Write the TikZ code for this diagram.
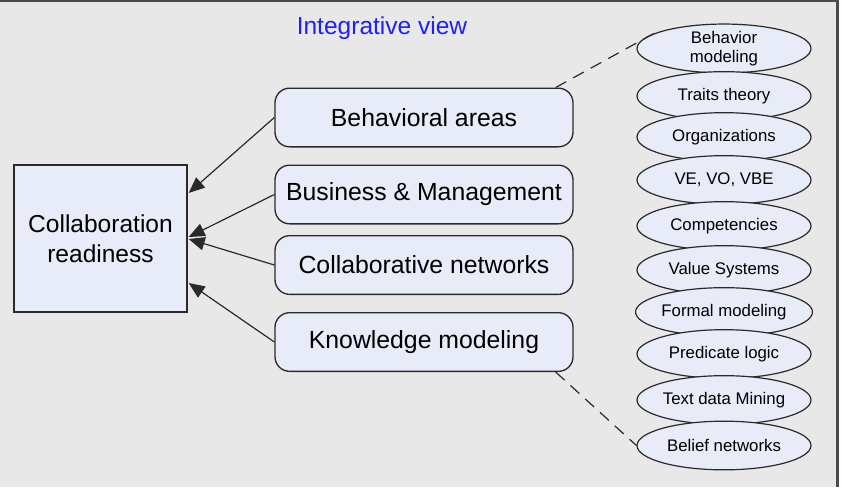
\documentclass[tikz,border=0pt]{standalone}
\usepackage{fontspec}
\setmainfont{Liberation Sans}
\usetikzlibrary{arrows.meta,shapes.geometric,calc}
\definecolor{bggray}{HTML}{E8E8E8}
\definecolor{boxfill}{HTML}{E8ECF8}
\definecolor{framegray}{HTML}{4A4A4A}
\definecolor{titleblue}{HTML}{1E1EFF}
\definecolor{linegray}{HTML}{2A2A2A}
\tikzset{
  mainbox/.style={draw=linegray, line width=1pt, fill=boxfill, rounded corners=11pt,
    minimum width=223.5pt, minimum height=44pt, inner sep=0pt,
    font=\fontsize{18.6pt}{22pt}\selectfont},
  topicell/.style={ellipse, draw=linegray, line width=0.9pt, fill=boxfill,
    minimum width=130.5pt, minimum height=36.5pt, inner sep=0pt, align=center,
    font=\fontsize{12.6pt}{14.2pt}\selectfont},
  crbox/.style={draw=linegray, line width=1pt, fill=boxfill, minimum width=129.75pt,
    minimum height=110.25pt, inner sep=0pt, align=center,
    font=\fontsize{18.4pt}{22.5pt}\selectfont},
  feed/.style={draw=linegray, line width=0.9pt, -{Triangle[length=12pt,width=10pt]}},
  dashlink/.style={draw=linegray, line width=0.9pt, dash pattern=on 9pt off 6pt}
}
\begin{document}
\begin{tikzpicture}[x=0.75pt,y=-0.75pt]
\useasboundingbox (0,0) rectangle (842,487);
\fill[white!96!bggray] (0,0) rectangle (842,487);
\fill[bggray] (0,0) rectangle (837,487);
\draw[framegray, line width=1.6pt] (0,1) -- (837.5,1) -- (837.5,487);

\node[text=titleblue, font=\fontsize{18.4pt}{22pt}\selectfont] (title) at (382,28.5) {Integrative view};

\node[crbox] (cr) at (100.5,238.5) {Collaboration\\readiness};

\node[mainbox] (ba) at (424,117.5) {Behavioral areas};
\node[mainbox] (bm) at (424,194.5) {Business \& Management};
\node[mainbox] (cn) at (424,265) {Collaborative networks};
\node[mainbox] (km) at (424,342) {Knowledge modeling};

\node[topicell] (e1) at (724,48.5) {Behavior\\modeling};
\node[topicell] (e2) at (724,96) {Traits theory};
\node[topicell] (e3) at (724,137) {Organizations};
\node[topicell] (e4) at (724,180) {VE, VO, VBE};
\node[topicell] (e5) at (724,226) {Competencies};
\node[topicell] (e6) at (724,270) {Value Systems};
\node[topicell] (e7) at (724,312) {Formal modeling};
\node[topicell] (e8) at (724,354) {Predicate logic};
\node[topicell] (e9) at (724,400) {Text data Mining};
\node[topicell] (e10) at (724,445.5) {Belief networks};

\coordinate (t1) at ($(cr.east)+(1,-45.5)$);
\coordinate (t2) at ($(cr.east)+(1,-1.5)$);
\coordinate (t3) at ($(cr.east)+(1,0.5)$);
\coordinate (t4) at ($(cr.east)+(1,44.5)$);
\draw[feed] (ba.west) -- (t1);
\draw[feed] (bm.west) -- (t2);
\draw[feed] (cn.west) -- (t3);
\draw[feed] (km.west) -- (t4);

\coordinate (d1) at ($(ba.north east)+(-18,0)$);
\coordinate (d2) at ($(km.south east)+(-18,0)$);
\draw[dashlink] (d1) -- (e1.168);
\draw[dashlink] (d2) -- (e10.west);
\end{tikzpicture}
\end{document}
